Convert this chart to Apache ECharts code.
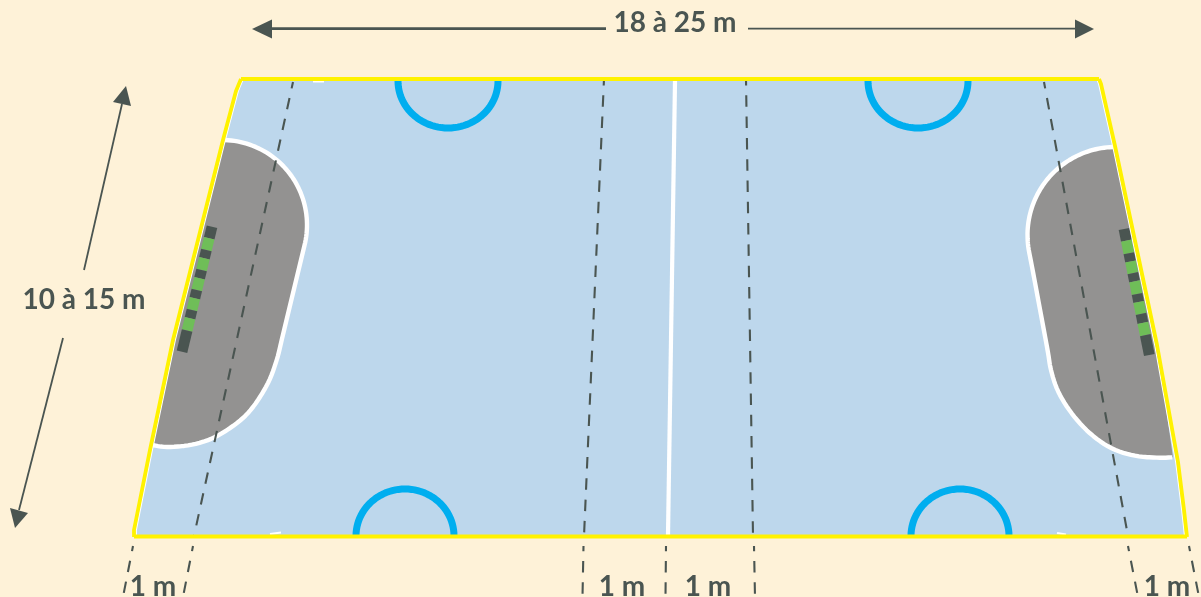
<!DOCTYPE html>
<html><head><meta charset="utf-8">
<style>html,body{margin:0;padding:0;background:#FEF2D8}#c{width:1201px;height:597px}</style>
<script src="https://cdn.jsdelivr.net/npm/echarts@6/dist/echarts.min.js"></script>
</head><body><div id="c"></div>
<script>
// Plan values, in the picture's own plane (x right, y down)
const courtLeftEdge = [[241,79],[236,91],[223,140],[173,340],[150,450],[140,500],[134,530],[134,537]];
const courtRightEdge = [[1099,79],[1101,84],[1115,146],[1157,345],[1178,462],[1184,510],[1187,537]];
// arcs: centre x, centre y, radius x, radius y, start angle, end angle
const leftAreaTopArc = [222,225,85,85,-88,14];
const rightAreaTopArc = [1115.5,235,88,88,270,181];
const leftAreaLower = [[281.7,340],[276.7,360],[268,383],[253,407],[237,423],[213,438],[190,445],[167,447],[152,445]];
const rightAreaLower = [[1027.5,233.5],[1028.3,247],[1033,272],[1047,347],[1051,370],[1058.3,391.7],[1071.7,413.3],[1090,433.3],[1111.7,448.3],[1135,455.7],[1158.3,457.7],[1173,457.3]];
const arcTopLeft = [448,81,50,47,180,0];
const arcTopRight = [918,81,50,47,180,0];
const arcBottomLeft = [405,536,49,47,180,360];
const arcBottomRight = [960,536,49,47,180,360];
const halfwayLine = [[675,81],[668,535]];
const dashedInside = [
  [[293,82],[194,536]], [[604,79],[584,536]], [[746,79],[753,536]], [[1044,82],[1128,536]]
];
const dashedOutside = [
  [[133,546],[123,597]], [[193,546],[183,597]], [[583.5,546],[582.5,597]], [[666,546],[665.5,597]],
  [[754,546],[755,597]], [[1128,546],[1138,597]], [[1189,546],[1199,597]]
];
const whiteScraps = [[[313,81.5],[324,81.5]],[[270,534],[281,532.5]],[[1057,533],[1066,534.5]]];
const goalLeftAxis = [[212,226.7],[182,351.7]];
const goalLeftStops = [0,.093,.187,.253,.347,.413,.507,.573,.667,.733,.83,1];
const goalRightAxis = [[1124,229],[1149.3,355]];
const goalRightStops = [0,.092,.192,.258,.35,.416,.516,.579,.674,.745,.842,1];
const arrowTopLeft = [[270,28.7],[606,28.7]];
const arrowTopRight = [[748,28.7],[1078,28.7]];
const arrowSideUp = [[122,104],[84,270]];
const arrowSideDown = [[63,338],[19,510]];
const arrowHeads = [
  [[252,29],[272,19.5],[272,38.5]], [[1094,29],[1075,19.5],[1075,38.5]],
  [[126,86],[113,102],[131,106]], [[15,528],[10,508],[28,513]]
];
const labelTexts = ['18 à 25 m','10 à 15 m','1 m','1 m','1 m','1 m'];
const labelSpots = [[675,23],[84,300],[153,587],[622,587],[708,587],[1167,587]];

const BG='#FEF2D8', BLUE='#BDD7EC', GREY='#939291', DARK='#4A5551', GREEN='#6FBE58',
      YELLOW='#FFF200', CYAN='#00AEEF', WHITE='#FFFFFF';
const FONT='Lato';

function spline(pts){
  const out=[];
  for(let i=0;i<pts.length-1;i++){
    const p0=pts[Math.max(i-1,0)],p1=pts[i],p2=pts[i+1],p3=pts[Math.min(i+2,pts.length-1)];
    for(let k=0;k<12;k++){
      const t=k/12,t2=t*t,t3=t2*t;
      out.push([0,1].map(d=>0.5*((2*p1[d])+(-p0[d]+p2[d])*t+(2*p0[d]-5*p1[d]+4*p2[d]-p3[d])*t2+(-p0[d]+3*p1[d]-3*p2[d]+p3[d])*t3)));
    }
  }
  out.push(pts[pts.length-1]);
  return out;
}
function arcPoints(a){
  const out=[];
  for(let i=0;i<=48;i++){
    const d=(a[4]+(a[5]-a[4])*i/48)*Math.PI/180;
    out.push([a[0]+a[2]*Math.cos(d),a[1]+a[3]*Math.sin(d)]);
  }
  return out;
}
function stroke(points,color,width,extra){
  return {type:'line',data:points,symbol:'none',silent:true,animation:false,z:extra&&extra.z||3,
    lineStyle:{color:color,width:width,cap:'butt',join:'round',
      type:(extra&&extra.dash)||'solid',dashOffset:(extra&&extra.offset)||0}};
}
function fills(items,z){
  return {type:'custom',coordinateSystem:'cartesian2d',silent:true,animation:false,z:z,
    data:items.map((_,i)=>[i]),
    encode:{x:[],y:[]},clip:false,
    renderItem(params,api){
      const it=items[params.dataIndex];
      return {type:'polygon',shape:{points:it.points.map(p=>api.coord(p))},style:{fill:it.color}};
    }};
}
function strip(axis,stops){
  const at=(f)=>[axis[0][0]+(axis[1][0]-axis[0][0])*f,axis[0][1]+(axis[1][1]-axis[0][1])*f];
  const dx=axis[1][0]-axis[0][0],dy=axis[1][1]-axis[0][1],L=Math.hypot(dx,dy),hw=5.4;
  const nx=-dy/L*hw,ny=dx/L*hw,res=[];
  for(let i=0;i<stops.length-1;i++){
    const a=at(stops[i]),b=at(stops[i+1]);
    res.push({points:[[a[0]+nx,a[1]+ny],[a[0]-nx,a[1]-ny],[b[0]-nx,b[1]-ny],[b[0]+nx,b[1]+ny]],color:i%2?GREEN:DARK});
  }
  return res;
}
const leftCurve=arcPoints(leftAreaTopArc).concat(spline(leftAreaLower));
const rightCurve=arcPoints(rightAreaTopArc).concat(spline(rightAreaLower));
const courtPoly=courtLeftEdge.concat(courtRightEdge.slice().reverse());
const leftPoly=leftCurve.concat([[173,340],[223,140]]);
const rightPoly=rightCurve.concat([[1157,345],[1115,146]]);
const inward=(pts,d)=>pts.map(p=>[p[0]+d,p[1]]);

const series=[
  fills([{points:courtPoly,color:BLUE}],1),
  fills([{points:leftPoly,color:GREY},{points:rightPoly,color:GREY}],2),
  stroke(leftCurve,WHITE,4.4),
  stroke(rightCurve,WHITE,4.4),
  stroke(halfwayLine,WHITE,4.2),
  stroke(arcPoints(arcTopLeft),CYAN,7),
  stroke(arcPoints(arcTopRight),CYAN,7),
  stroke(arcPoints(arcBottomLeft),CYAN,7),
  stroke(arcPoints(arcBottomRight),CYAN,7),
  fills(strip(goalLeftAxis,goalLeftStops).concat(strip(goalRightAxis,goalRightStops)),4)
];
dashedInside.forEach(l=>series.push(stroke(l,DARK,2.1,{z:5,dash:[11.5,9.8],offset:5})));
dashedOutside.forEach(l=>series.push(stroke(l,DARK,2.1,{z:5,dash:[11.5,9.8],offset:6.3})));
whiteScraps.forEach(l=>series.push(stroke(l,WHITE,2,{z:3})));
series.push(stroke(inward(courtLeftEdge,2.2),WHITE,1.4,{z:6}));
series.push(stroke(inward(courtRightEdge,-2.2),WHITE,1.4,{z:6}));
series.push(stroke(courtLeftEdge,YELLOW,3.8,{z:7}));
series.push(stroke(courtRightEdge,YELLOW,3.8,{z:7}));
series.push(stroke([[134,536.5],[1187,536.5]],YELLOW,4,{z:7}));
series.push(stroke([[241,79],[1099,79]],YELLOW,4,{z:7}));
series.push(stroke(arrowTopLeft,DARK,2.8,{z:8}));
series.push(stroke(arrowTopRight,DARK,1.8,{z:8}));
series.push(stroke(arrowSideUp,DARK,1.8,{z:8}));
series.push(stroke(arrowSideDown,DARK,1.8,{z:8}));
series.push(fills(arrowHeads.map(p=>({points:p,color:DARK})),8));
series.push({type:'custom',coordinateSystem:'cartesian2d',silent:true,animation:false,z:9,clip:false,
  data:labelSpots.map((p,i)=>[p[0],p[1],i]),encode:{x:0,y:1},
  renderItem(params,api){
    const c=api.coord([api.value(0),api.value(1)]);
    return {type:'text',x:c[0],y:c[1],style:{text:labelTexts[api.value(2)],fill:DARK,
      font:'bold 28px '+FONT,align:'center',verticalAlign:'middle'}};
  }});

const chart=echarts.init(document.getElementById('c'),null,{width:1201,height:597,renderer:'canvas'});
chart.setOption({
  backgroundColor:BG,animation:false,
  grid:{left:0,right:0,top:0,bottom:0,containLabel:false},
  tooltip:{show:false},legend:{show:false},
  xAxis:{type:'value',min:0,max:1201,show:false},
  yAxis:{type:'value',min:0,max:597,inverse:true,show:false},
  series:series
});
</script></body></html>
